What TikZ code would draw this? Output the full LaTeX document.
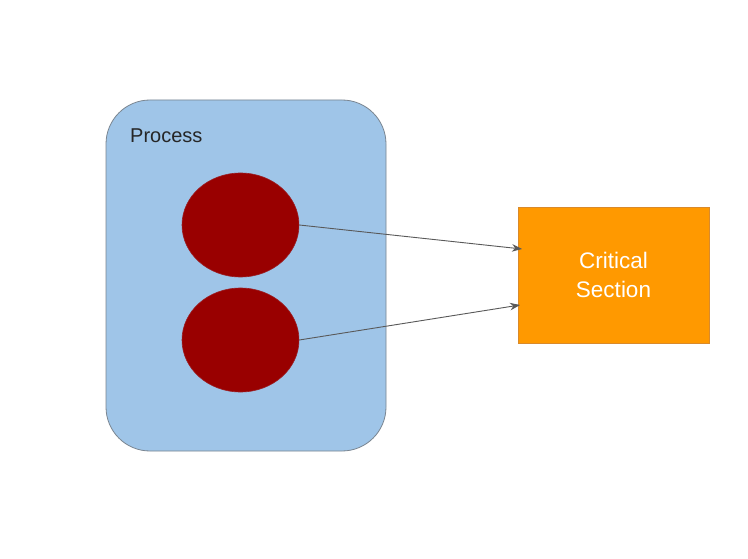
\documentclass[tikz,border=0pt]{standalone}
\usepackage{fontspec}
\setmainfont{Liberation Sans}
\usetikzlibrary{arrows.meta,shapes.geometric}
\definecolor{procblue}{HTML}{9FC5E8}
\definecolor{procborder}{HTML}{7A8590}
\definecolor{threadred}{HTML}{990000}
\definecolor{csorange}{HTML}{FF9900}
\definecolor{csborder}{HTML}{D98A2B}
\definecolor{arrowgray}{HTML}{595959}
\tikzset{
  procbox/.style={draw=procborder, fill=procblue, line width=0.8pt, rounded corners=44pt},
  thread/.style={ellipse, fill=threadred, draw=threadred!85!procblue, line width=0.6pt, minimum width=117pt, minimum height=104pt, inner sep=0pt},
  csbox/.style={draw=csborder, fill=csorange, line width=0.8pt, minimum width=191pt, minimum height=136pt, inner sep=0pt, align=center, text=white, font=\fontsize{22.5pt}{28.5pt}\selectfont},
  link/.style={draw=arrowgray, line width=0.9pt, -{Stealth[length=10pt,width=7.5pt]}}
}
\begin{document}
\begin{tikzpicture}[x=1pt,y=-1pt]
\useasboundingbox (0,0) rectangle (748,559);
\fill[white] (0,0) rectangle (748,559);
\draw[procbox] (106,100) rectangle (386,451);
\node[anchor=base west, inner sep=0pt, text=black!85, font=\fontsize{20pt}{24pt}\selectfont] (plabel) at (130,143) {Process};
\node[thread] (t1) at (240.5,225) {};
\node[thread] (t2) at (240.5,340) {};
\node[csbox] (cs) at (613.5,275) {Critical\\Section};
\coordinate (e1) at (522,249);
\coordinate (e2) at (520,305);
\draw[link] (t1.east) -- (e1);
\draw[link] (t2.east) -- (e2);
\end{tikzpicture}
\end{document}
